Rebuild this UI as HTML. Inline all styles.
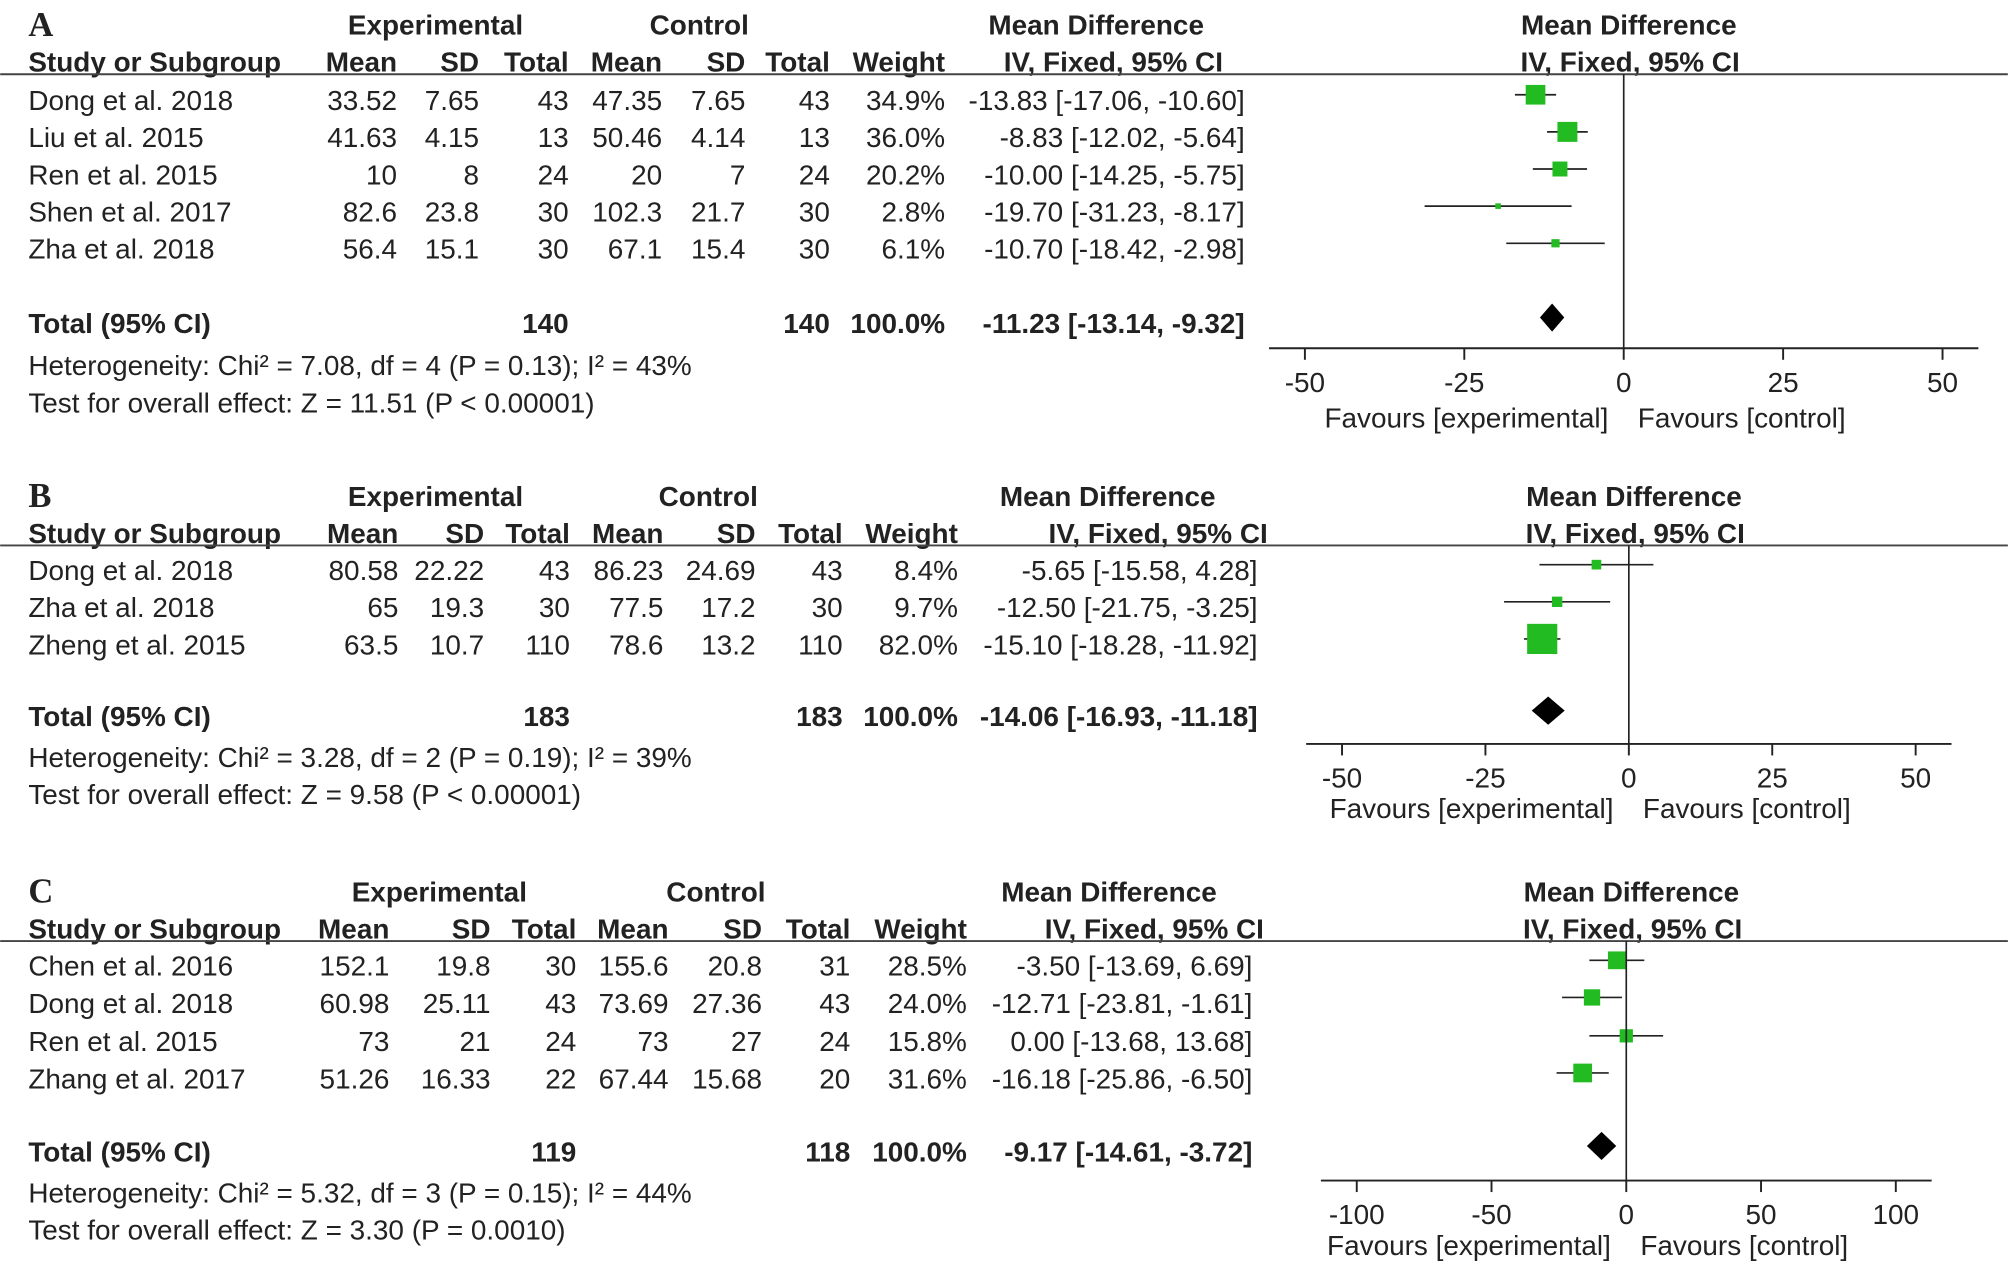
<!DOCTYPE html>
<html><head><meta charset="utf-8"><style>
html,body{margin:0;padding:0;background:#fff}
svg{display:block}
text{font-family:"Liberation Sans",Arial,sans-serif;font-size:21.8px;fill:#222}
.b{font-weight:bold}
</style></head><body>
<svg id="c" width="2008" height="1274" viewBox="0 0 1568 995" xmlns="http://www.w3.org/2000/svg"></svg>
<script>
// Panel A data
const studiesA=["Dong et al. 2018","Liu et al. 2015","Ren et al. 2015","Shen et al. 2017","Zha et al. 2018"];
const expMeanA=["33.52","41.63","10","82.6","56.4"],expSdA=["7.65","4.15","8","23.8","15.1"],expNA=[43,13,24,30,30];
const ctlMeanA=["47.35","50.46","20","102.3","67.1"],ctlSdA=["7.65","4.14","7","21.7","15.4"],ctlNA=[43,13,24,30,30];
const weightA=[34.9,36.0,20.2,2.8,6.1];
const mdA=[-13.83,-8.83,-10.00,-19.70,-10.70],loA=[-17.06,-12.02,-14.25,-31.23,-18.42],hiA=[-10.60,-5.64,-5.75,-8.17,-2.98];
const totA=[-11.23,-13.14,-9.32],totNA=[140,140];
const ticksA=[-50,-25,0,25,50];
// Panel B data
const studiesB=["Dong et al. 2018","Zha et al. 2018","Zheng et al. 2015"];
const expMeanB=["80.58","65","63.5"],expSdB=["22.22","19.3","10.7"],expNB=[43,30,110];
const ctlMeanB=["86.23","77.5","78.6"],ctlSdB=["24.69","17.2","13.2"],ctlNB=[43,30,110];
const weightB=[8.4,9.7,82.0];
const mdB=[-5.65,-12.50,-15.10],loB=[-15.58,-21.75,-18.28],hiB=[4.28,-3.25,-11.92];
const totB=[-14.06,-16.93,-11.18],totNB=[183,183];
const ticksB=[-50,-25,0,25,50];
// Panel C data
const studiesC=["Chen et al. 2016","Dong et al. 2018","Ren et al. 2015","Zhang et al. 2017"];
const expMeanC=["152.1","60.98","73","51.26"],expSdC=["19.8","25.11","21","16.33"],expNC=[30,43,24,22];
const ctlMeanC=["155.6","73.69","73","67.44"],ctlSdC=["20.8","27.36","27","15.68"],ctlNC=[31,43,24,20];
const weightC=[28.5,24.0,15.8,31.6];
const mdC=[-3.50,-12.71,0.00,-16.18],loC=[-13.69,-23.81,-13.68,-25.86],hiC=[6.69,-1.61,13.68,-6.50];
const totC=[-9.17,-14.61,-3.72],totNC=[119,118];
const ticksC=[-100,-50,0,50,100];

const svg=document.getElementById('c');const NS="http://www.w3.org/2000/svg";
function el(tag,attrs,txt,name){const e=document.createElementNS(NS,tag);for(const k in attrs)e.setAttribute(k,attrs[k]);if(txt!==undefined)e.textContent=txt;


svg.appendChild(e);return e;}
function T(x,y,s,anchor,cls,name){return el('text',{x:x,y:y,'text-anchor':anchor||'start','class':cls||''},s,name);}
const f2=v=>v.toFixed(2);
function panel(P){
 const o=P.y0;
 T(22,o+28,P.letter,'start','b',"panel-label").setAttribute('style','font-family:"Liberation Serif",serif;font-size:27px');
 T(P.expHx,o+27,"Experimental",'middle','b',"experimental-header");
 T(P.ctlHx,o+27,"Control",'middle','b',"control-header");
 T(P.mdHx,o+27,"Mean Difference",'middle','b',"mean-difference-header");
 T(P.z+4,o+27,"Mean Difference",'middle','b',"plot-header");
 const hy=o+56,c=P.cols;
 T(22,hy,"Study or Subgroup",'start','b',"study-header");
 ["Mean","SD","Total","Mean","SD","Total","Weight"].forEach((h,i)=>T(c[i],hy,h,'end','b',"column-header"));
 T(P.ciH,hy,"IV, Fixed, 95% CI",'end','b',"ci-header");
 T(P.z+5,hy,"IV, Fixed, 95% CI",'middle','b',"plot-ci-header");
 el('line',{x1:0,x2:1568,y1:o+P.line,y2:o+P.line,stroke:'#444','stroke-width':1.5},undefined,"header-rule");
 const X=v=>P.z+v*P.sc;
 P.s.forEach((s,i)=>{const y=o+P.rows[i];
  T(22,y+12,s,'start','',"study-name");
  const vals=[P.em[i],P.es[i],P.en[i],P.cm[i],P.cs[i],P.cn[i],P.w[i].toFixed(1)+"%"];
  vals.forEach((v,j)=>T(c[j],y+12,v,'end','',"study-value"));
  T(c[7],y+12,f2(P.md[i])+" ["+f2(P.lo[i])+", "+f2(P.hi[i])+"]",'end','',"study-ci");
  el('line',{x1:X(P.lo[i]),x2:X(P.hi[i]),y1:y,y2:y,stroke:'#222','stroke-width':1.3},undefined,"ci-whisker");
  const sz=Math.max(4,Math.sqrt(P.w[i])*2.6);
  el('rect',{x:X(P.md[i])-sz/2,y:y-sz/2,width:sz,height:sz,fill:'#22bb22'},undefined,"study-effect-square");
 });
 const ty=o+P.tot;
 T(22,ty+12,"Total (95% CI)",'start','b',"total-label");
 T(c[2],ty+12,P.tn[0],'end','b',"total-exp-n");T(c[5],ty+12,P.tn[1],'end','b',"total-ctl-n");
 T(c[6],ty+12,"100.0%",'end','b',"total-weight");
 T(c[7],ty+12,f2(P.t[0])+" ["+f2(P.t[1])+", "+f2(P.t[2])+"]",'end','b',"total-ci");
 el('polygon',{points:`${X(P.t[1])},${ty} ${X(P.t[0])},${ty-11} ${X(P.t[2])},${ty} ${X(P.t[0])},${ty+11}`,fill:'#000'},undefined,"pooled-diamond");
 T(22,o+P.het,P.hetTxt,'start','',"heterogeneity-text");
 T(22,o+P.het+29,P.testTxt,'start','',"overall-effect-text");
 const ay=o+P.ax;
 el('line',{x1:P.z,x2:P.z,y1:o+P.line,y2:ay,stroke:'#222','stroke-width':1.3},undefined,"zero-line");
 el('line',{x1:X(P.ticks[0])-28,x2:X(P.ticks[P.ticks.length-1])+28,y1:ay,y2:ay,stroke:'#222','stroke-width':1.5},undefined,"x-axis");
 P.ticks.forEach(t=>{el('line',{x1:X(t),x2:X(t),y1:ay,y2:ay+9,stroke:'#222','stroke-width':1.5},undefined,"x-tick");
  T(X(t),ay+34,String(t),'middle','',"x-tick-label");});
 T(P.z-12,ay+P.fav,"Favours [experimental]",'end','',"favours-experimental");
 T(P.z+11,ay+P.fav,"Favours [control]",'start','',"favours-control");
}
panel({letter:"A",y0:0,expHx:340,ctlHx:546,mdHx:856,z:1268,sc:4.98,cols:[310,374,444,517,582,648,738,972],ciH:955,line:58,
 rows:[74,103,132,161,190],tot:248,het:293,ax:272,fav:62,s:studiesA,em:expMeanA,es:expSdA,en:expNA,cm:ctlMeanA,cs:ctlSdA,cn:ctlNA,w:weightA,md:mdA,lo:loA,hi:hiA,t:totA,tn:totNA,ticks:ticksA,
 hetTxt:"Heterogeneity: Chi² = 7.08, df = 4 (P = 0.13); I² = 43%",testTxt:"Test for overall effect: Z = 11.51 (P < 0.00001)"});
panel({letter:"B",y0:368,expHx:340,ctlHx:553,mdHx:865,z:1272,sc:4.48,cols:[311,378,445,518,590,658,748,982],ciH:990,line:58,
 rows:[73,102,131],tot:187,het:231,ax:213,fav:58,s:studiesB,em:expMeanB,es:expSdB,en:expNB,cm:ctlMeanB,cs:ctlSdB,cn:ctlNB,w:weightB,md:mdB,lo:loB,hi:hiB,t:totB,tn:totNB,ticks:ticksB,
 hetTxt:"Heterogeneity: Chi² = 3.28, df = 2 (P = 0.19); I² = 39%",testTxt:"Test for overall effect: Z = 9.58 (P < 0.00001)"});
panel({letter:"C",y0:677,expHx:343,ctlHx:559,mdHx:866,z:1270,sc:2.105,cols:[304,383,450,522,595,664,755,978],ciH:987,line:58,
 rows:[73,102,132,161],tot:218,het:262,ax:245,fav:58,s:studiesC,em:expMeanC,es:expSdC,en:expNC,cm:ctlMeanC,cs:ctlSdC,cn:ctlNC,w:weightC,md:mdC,lo:loC,hi:hiC,t:totC,tn:totNC,ticks:ticksC,
 hetTxt:"Heterogeneity: Chi² = 5.32, df = 3 (P = 0.15); I² = 44%",testTxt:"Test for overall effect: Z = 3.30 (P = 0.0010)"});
</script>
</body></html>
